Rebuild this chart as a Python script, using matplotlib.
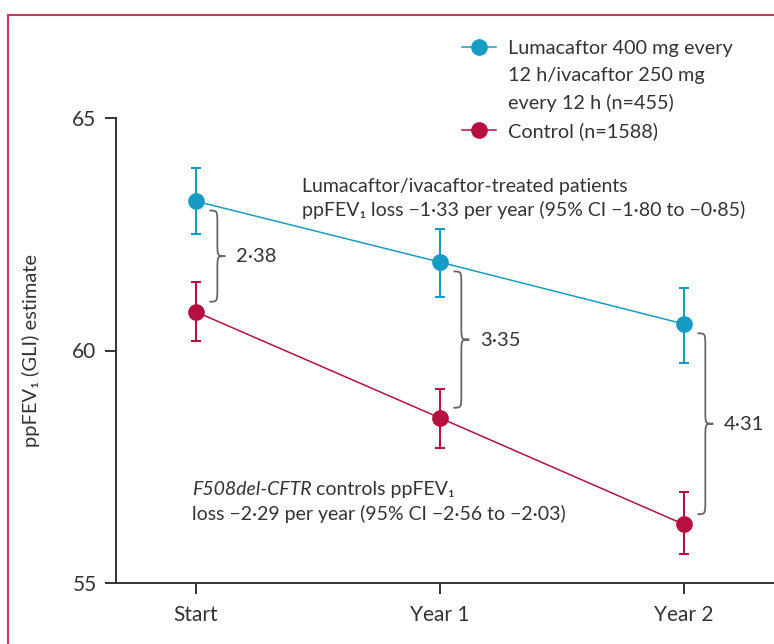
import numpy as np
import matplotlib
matplotlib.use("Agg")
import matplotlib.pyplot as plt
from matplotlib.path import Path
from matplotlib.patches import PathPatch, Rectangle
from matplotlib.lines import Line2D

plt.rcParams['font.family'] = ['Lato', 'DejaVu Sans']

# data
timepoints = ['Start', 'Year 1', 'Year 2']
luma_mean = [63.21, 61.90, 60.57]
luma_lo = [62.50, 61.16, 59.74]
luma_hi = [63.92, 62.61, 61.35]
ctrl_mean = [60.83, 58.55, 56.26]
ctrl_lo = [60.21, 57.90, 55.62]
ctrl_hi = [61.47, 59.17, 56.95]
diff_labels = ['2\u00b738', '3\u00b735', '4\u00b731']

blue = '#169bc4'
red = '#b5103f'
txt = '#333333'


def brace(ax, x0, ytop, ybot, w, r):
	# curly brace opening to the left, tip to the right
	h = w / 2.
	ym = (ytop + ybot) / 2.
	verts = [(x0, ytop),
		(x0 + h, ytop), (x0 + h, ytop), (x0 + h, ytop - r),
		(x0 + h, ym + r),
		(x0 + h, ym), (x0 + h, ym), (x0 + w, ym),
		(x0 + h, ym), (x0 + h, ym), (x0 + h, ym - r),
		(x0 + h, ybot + r),
		(x0 + h, ybot), (x0 + h, ybot), (x0, ybot)]
	codes = [Path.MOVETO] + [Path.CURVE4] * 3 + [Path.LINETO] + [Path.CURVE4] * 6 + [Path.LINETO] + [Path.CURVE4] * 3
	ax.add_patch(PathPatch(Path(verts, codes), fill=False, edgecolor='#666666', lw=1.3))


fig = plt.figure(figsize=(7.74, 6.44), dpi=100)
ax = fig.add_axes([116 / 774., 61 / 644., 658 / 774., 465 / 644.])

x = np.arange(len(timepoints))
luma_mean = np.array(luma_mean)
ctrl_mean = np.array(ctrl_mean)

for mean, lo, hi, c in [(luma_mean, luma_lo, luma_hi, blue), (ctrl_mean, ctrl_lo, ctrl_hi, red)]:
	err = [mean - np.array(lo), np.array(hi) - mean]
	ax.errorbar(x, mean, yerr=err, fmt='none', ecolor=c, elinewidth=1.5, capsize=3.3, capthick=1.5, zorder=2)

l1, = ax.plot(x, luma_mean, '-o', color=blue, lw=1.1, ms=11, zorder=3)
l2, = ax.plot(x, ctrl_mean, '-o', color=red, lw=1.1, ms=11, zorder=3)

# braces with differences
for i in range(len(timepoints)):
	brace(ax, x[i] + 0.055, luma_mean[i] - 0.2, ctrl_mean[i] + 0.22, 0.065, 0.3)
	ax.text(x[i] + 0.165, (luma_mean[i] + ctrl_mean[i]) / 2., diff_labels[i],
		fontsize=14.5, color=txt, va='center', ha='left')

ax.text(0.435, 63.27, 'Lumacaftor/ivacaftor-treated patients\n'
	'ppFEV\u2081 loss \u22121\u00b733 per year (95% CI \u22121\u00b780 to \u22120\u00b785)',
	fontsize=14, color=txt, va='center', ha='left', linespacing=1.45)

t1 = ax.text(-0.018, 56.89, 'F508del-CFTR', fontsize=14, color=txt, style='italic',
	va='baseline', ha='left')
ax.annotate(' controls ppFEV\u2081', xy=(1, 0), xycoords=t1, fontsize=14, color=txt,
	va='bottom', ha='left')
ax.text(-0.018, 56.35, 'loss \u22122\u00b729 per year (95% CI \u22122\u00b756 to \u22122\u00b703)',
	fontsize=14, color=txt, va='baseline', ha='left')

ax.set_xlim(-0.328, 2.369)
ax.set_ylim(55, 65)
ax.set_xticks(x)
ax.set_xticklabels(timepoints)
ax.set_yticks([55, 60, 65])
ax.tick_params(axis='both', direction='out', length=8, width=1.4, colors='#333333',
	labelsize=15, pad=6)
ax.tick_params(axis='x', pad=8)
for s in ['top', 'right']:
	ax.spines[s].set_visible(False)
for s in ['left', 'bottom']:
	ax.spines[s].set_linewidth(1.4)
	ax.spines[s].set_color('#333333')
ax.set_ylabel('ppFEV\u2081 (GLI) estimate', fontsize=14.5, color=txt)
ax.yaxis.set_label_coords(-0.115, 0.5)

blank = Line2D([], [], ls='none')
leg = fig.legend([l1, blank, blank, l2],
	['Lumacaftor 400 mg every', '12 h/ivacaftor 250 mg', 'every 12 h (n=455)', 'Control (n=1588)'],
	loc='upper left', bbox_to_anchor=(462 / 774., 1 - 40 / 644.), frameon=False,
	fontsize=14.3, numpoints=1, handlelength=1.7, handletextpad=0.6, labelspacing=0.5,
	borderpad=0, borderaxespad=0)
for t in leg.get_texts():
	t.set_color(txt)

fig.add_artist(Rectangle((8 / 774., -0.1), 1.2, 1.1 - 15 / 644., transform=fig.transFigure,
	fill=False, edgecolor='#c8375a', lw=1.5))

plt.savefig('out.png', dpi=100)
